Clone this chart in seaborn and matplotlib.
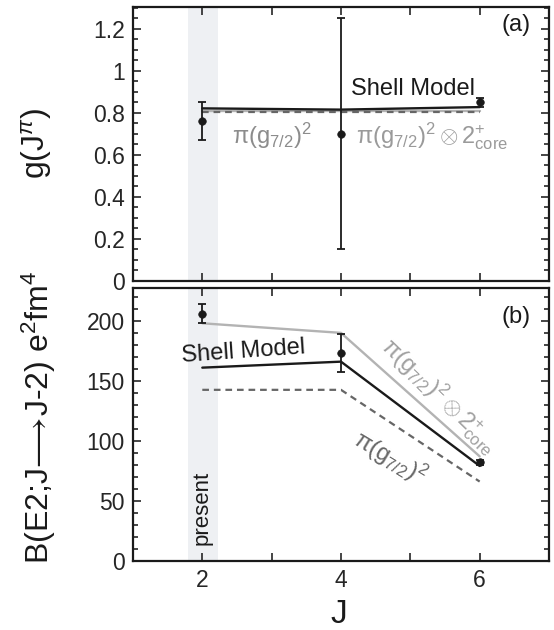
import numpy as np
import pandas as pd
import matplotlib
matplotlib.use("Agg")
import matplotlib.pyplot as plt
import seaborn as sns
from matplotlib.ticker import MultipleLocator, FuncFormatter

sns.set_style("ticks")
plt.rcParams['font.family'] = ['Liberation Sans', 'DejaVu Sans']
plt.rcParams['mathtext.fontset'] = 'custom'
plt.rcParams['mathtext.rm'] = 'Liberation Sans'
plt.rcParams['mathtext.it'] = 'Liberation Sans:italic'
plt.rcParams['mathtext.sf'] = 'Liberation Sans'

# data
J = [2, 4, 6]
g_exp = [0.76, 0.70, 0.85]
g_err = [0.09, 0.55, 0.02]
g_shell = [0.822, 0.816, 0.828]
g_core = [0.81, 0.81, 0.81]
g_pure = [0.805, 0.805, 0.805]

be2_exp = [206, 173, 82]
be2_err = [8, 16, 2]
be2_shell = [161, 166, 79]
be2_core = [198, 190, 87]
be2_pure = [142.5, 142.5, 66]

BLACK = '#1a1a1a'
LGRAY = '#b3b3b3'
DGRAY = '#666666'
TGRAY = '#8c8c8c'

fig = plt.figure(figsize=(5.54, 6.30), dpi=100)
ax1 = fig.add_axes([0.240, 0.554, 0.751, 0.435])
ax2 = fig.add_axes([0.240, 0.110, 0.751, 0.433])


def draw(ax, exp, err, shell, core, pure):
    ax.axvspan(1.79, 2.23, color='#eef0f3', lw=0, zorder=0)
    d = pd.DataFrame({'J': J, 'shell': shell, 'core': core, 'pure': pure})
    sns.lineplot(data=d, x='J', y='core', ax=ax, color=LGRAY, lw=1.7, zorder=2)
    sns.lineplot(data=d, x='J', y='pure', ax=ax, color=DGRAY, lw=1.6,
                 dashes=(3, 2.2), zorder=2)
    sns.lineplot(data=d, x='J', y='shell', ax=ax, color=BLACK, lw=1.7, zorder=3)
    ax.errorbar(J, exp, yerr=err, fmt='none', ecolor=BLACK, elinewidth=1.3,
                capsize=3, capthick=1.3, zorder=4)
    sns.scatterplot(x=J, y=exp, ax=ax, color=BLACK, s=30, marker='o',
                    edgecolor=BLACK, zorder=5)
    ax.set_xlim(1, 7)
    ax.set_xticks([2, 3, 4, 5, 6])
    ax.tick_params(which='both', direction='in', top=True, right=True,
                   width=1.2, labelsize=16.5, pad=6)
    ax.tick_params(which='major', length=6)
    ax.tick_params(which='minor', length=3.5)
    for s in ax.spines.values():
        s.set_linewidth(1.6)
        s.set_color(BLACK)
    ax.set_xlabel('')
    ax.set_ylabel('')


draw(ax1, g_exp, g_err, g_shell, g_core, g_pure)
draw(ax2, be2_exp, be2_err, be2_shell, be2_core, be2_pure)

ax1.set_ylim(0, 1.305)
ax1.yaxis.set_major_locator(MultipleLocator(0.2))
ax1.yaxis.set_minor_locator(MultipleLocator(0.05))
ax1.yaxis.set_major_formatter(FuncFormatter(lambda v, p: f'{v:g}'))
ax1.set_xticklabels([])

ax2.set_ylim(0, 227.5)
ax2.yaxis.set_major_locator(MultipleLocator(50))
ax2.yaxis.set_minor_locator(MultipleLocator(10))
ax2.set_xticklabels(['2', '', '4', '', '6'])

pure_lbl = r'$\mathrm{\pi}(\mathrm{g}_{7/2})^2$'
core_lbl = r'$\mathrm{\pi}(\mathrm{g}_{7/2})^2\otimes2^{+}_{\mathrm{core}}$'

# panel (a) annotations
ax1.text(0.955, 0.935, '(a)', transform=ax1.transAxes, fontsize=17,
         ha='right', va='center', color=BLACK)
ax1.text(4.15, 0.915, 'Shell Model', fontsize=17, ha='left', va='center', color=BLACK)
ax1.text(2.43, 0.69, pure_lbl, fontsize=17, ha='left', va='center', color=TGRAY)
ax1.text(4.22, 0.69, core_lbl, fontsize=17, ha='left', va='center', color='#9a9a9a')

# panel (b) annotations
ax2.text(0.955, 0.895, '(b)', transform=ax2.transAxes, fontsize=17,
         ha='right', va='center', color=BLACK)
ax2.text(2.6, 174, 'Shell Model', fontsize=17, ha='center', va='center',
         color=BLACK, rotation=4)
ax2.text(5.43, 138, core_lbl, fontsize=17, ha='center', va='center',
         color='#a0a0a0', rotation=-44, rotation_mode='anchor')
ax2.text(4.7, 86, pure_lbl, fontsize=17, ha='center', va='center',
         color=DGRAY, rotation=-31, rotation_mode='anchor')
ax2.text(2.0, 44, 'present', fontsize=16, ha='center', va='center',
         color=BLACK, rotation=90)

fig.text(0.066, 0.773, r'g(J$^{\pi}$)', fontsize=23, rotation=90,
         ha='center', va='center', color=BLACK)
fig.text(0.070, 0.338, r'B(E2;J$\!\longrightarrow\!$J-2) e$^2$fm$^4$', fontsize=23,
         rotation=90, ha='center', va='center', color=BLACK)
fig.text(0.612, 0.024, 'J', fontsize=24, ha='center', va='center', color=BLACK)

fig.savefig('out.png', dpi=100)
